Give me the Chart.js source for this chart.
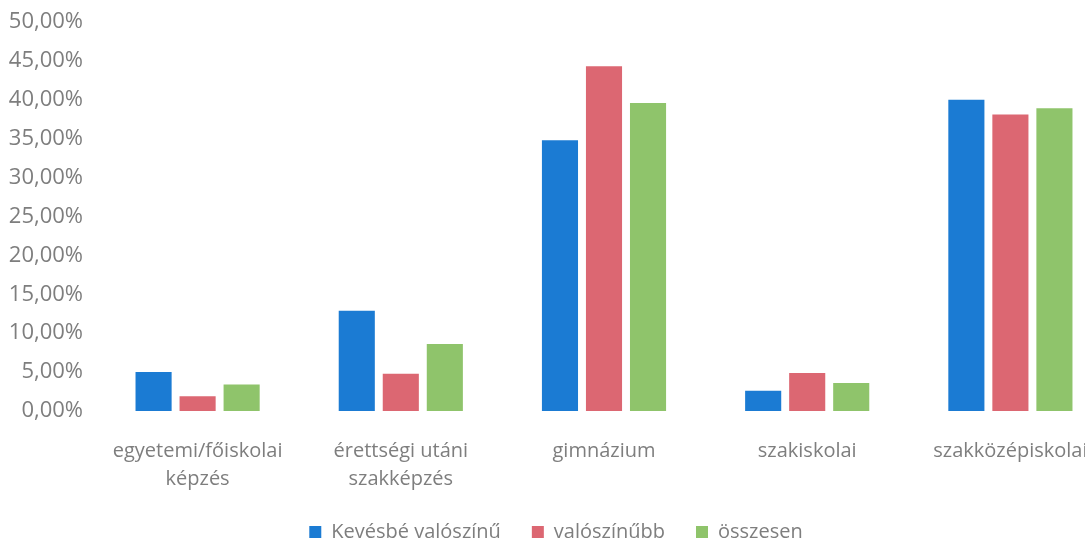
<!DOCTYPE html>
<html>
<head>
<meta charset="utf-8">
<script src="https://cdn.jsdelivr.net/npm/chart.js@4"></script>
<style>
  html, body { margin: 0; padding: 0; background: #fff; overflow: hidden; }
  #wrap { position: absolute; left: 0; top: 0; width: 1128px; height: 547px; }
</style>
</head>
<body>
<div id="wrap"><canvas id="chart" width="1128" height="547"></canvas></div>
<script>
const categories = [
  ['egyetemi/főiskolai', 'képzés'],
  ['érettségi utáni', 'szakképzés'],
  'gimnázium',
  'szakiskolai',
  'szakközépiskolai',
];
const kevesbe = [5.0, 12.9, 34.8, 2.6, 40.0];
const valoszinubb = [1.9, 4.8, 44.3, 4.9, 38.1];
const osszesen = [3.4, 8.6, 39.6, 3.6, 38.9];
const yTicks = [0, 5, 10, 15, 20, 25, 30, 35, 40, 45, 50];

const textColor = '#7e7e7e';
const fontFamily = '"Open Sans", sans-serif';

const ctx = document.getElementById('chart').getContext('2d');
new Chart(ctx, {
  type: 'bar',
  data: {
    labels: categories,
    datasets: [
      { label: 'Kevésbé valószínű', data: kevesbe, backgroundColor: '#1b7bd3' },
      { label: 'valószínűbb', data: valoszinubb, backgroundColor: '#dc6772' },
      { label: 'összesen', data: osszesen, backgroundColor: '#8fc46b' },
    ],
  },
  options: {
    responsive: false,
    animation: false,
    // extra right padding moves the centred legend to where it sits in the original
    layout: { padding: { top: 22, left: 0, right: 16, bottom: -5 } },
    datasets: {
      bar: { categoryPercentage: 0.65, barPercentage: 0.82 },
    },
    scales: {
      x: {
        afterFit: s => { s.height = 80; },
        grid: { display: false },
        border: { display: false },
        ticks: {
          color: textColor,
          padding: 18,
          maxRotation: 0,
          autoSkip: false,
          font: { family: fontFamily, size: 20, lineHeight: 1.4 },
        },
      },
      y: {
        min: 0,
        max: 50,
        afterFit: s => { s.width = 96; },
        afterBuildTicks: s => { s.ticks = yTicks.map(v => ({ value: v })); },
        grid: { display: false },
        border: { display: false },
        ticks: {
          color: textColor,
          padding: 5,
          font: { family: fontFamily, size: 22 },
          callback: v => v.toFixed(2).replace('.', ',') + '%',
        },
      },
    },
    plugins: {
      tooltip: { enabled: false },
      legend: {
        position: 'bottom',
        labels: {
          color: textColor,
          boxWidth: 12,
          boxHeight: 12,
          padding: 31,
          font: { family: fontFamily, size: 20 },
        },
      },
    },
  },
});
</script>
</body>
</html>
